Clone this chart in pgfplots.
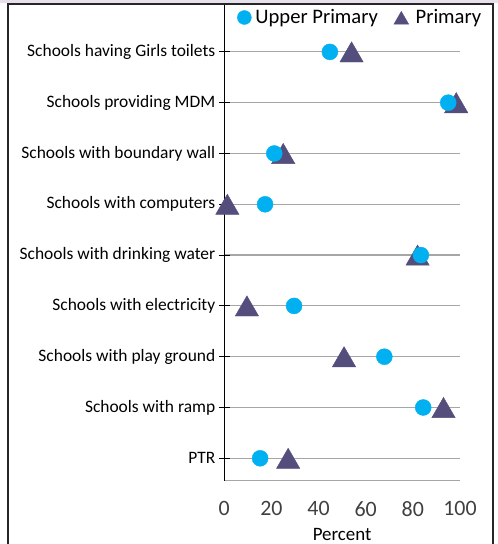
\documentclass[border=0pt]{standalone}
\usepackage{pgfplots}
\pgfplotsset{compat=1.18}
\usepackage{fontspec}
\setmainfont{Carlito}

\definecolor{upblue}{HTML}{00B0F0}
\definecolor{primpurple}{HTML}{544E7C}
\definecolor{gridgray}{HTML}{A6A6A6}
\definecolor{txtgray}{HTML}{404040}
\definecolor{topband}{HTML}{E6E0EC}

\begin{document}
\begin{tikzpicture}
\path[use as bounding box] (-224.3bp,-63.3bp) rectangle (273.7bp,480.7bp);
\begin{axis}[
    at={(0,0)}, anchor=south west,
    scale only axis,
    width=235.7bp, height=475.7bp,
    xmin=0, xmax=100,
    ymin=0.559, ymax=9.923,
    clip=false,
    axis lines*=left,
    x axis line style={gridgray, line width=1.2bp},
    y axis line style={black, line width=0.9bp},
    xtick={0,20,40,60,80,100},
    xtick style={draw=none},
    /pgf/number format/assume math mode=true,
    xticklabel style={font=\fontsize{22}{25}\selectfont, text=txtgray, yshift=-12bp},
    ytick={1,...,9},
    yticklabels={PTR, Schools with ramp, Schools with play ground, Schools with electricity,
        Schools with drinking water, Schools with computers, Schools with boundary wall,
        Schools providing MDM, Schools having Girls toilets},
    yticklabel style={font=\fontsize{17.5}{20}\selectfont, text=black},
    ytick style={black, line width=0.9bp},
    tick align=center,
    major tick length=11bp,
    ymajorgrids,
    grid style={gridgray, line width=1.2bp},
    xlabel={Percent},
    xlabel style={font=\fontsize{19}{22}\selectfont, text=black, yshift=-4.5bp},
    legend columns=2,
    reverse legend,
    legend style={at={(rel axis cs:0.042,0.999)}, anchor=north west, draw=none, fill=none,
        font=\fontsize{20.7}{24}\selectfont, text=black,
        /tikz/every even column/.append style={column sep=14bp}},
]
\addplot[only marks, mark=triangle*, mark size=13.5bp,
    mark options={fill=primpurple, draw=primpurple, yshift=-3.4bp},
    legend image post style={mark size=8.5bp, yshift=1bp}]
coordinates {
    (54.0,9) (98.4,8) (25.0,7) (1.3,6) (82.0,5) (9.6,4) (50.8,3) (93.0,2) (27.1,1)
};
\addlegendentry{\hspace{5bp}Primary}
\addplot[only marks, mark=*, mark size=8bp,
    mark options={fill=upblue, draw=upblue},
    legend image post style={mark size=7bp}]
coordinates {
    (44.8,9) (95.0,8) (21.2,7) (17.3,6) (83.4,5) (29.6,4) (67.9,3) (84.4,2) (15.2,1)
};
\addlegendentry{\hspace{2bp}Upper Primary}
\end{axis}
\fill[topband] (-224.3bp,477.2bp) rectangle (273.7bp,480.7bp);
\draw[line width=2bp, black!85] (-216.3bp,-63.3bp) -- (-216.3bp,476.2bp)
    -- (268.2bp,476.2bp) -- (268.2bp,-63.3bp);
\end{tikzpicture}
\end{document}
